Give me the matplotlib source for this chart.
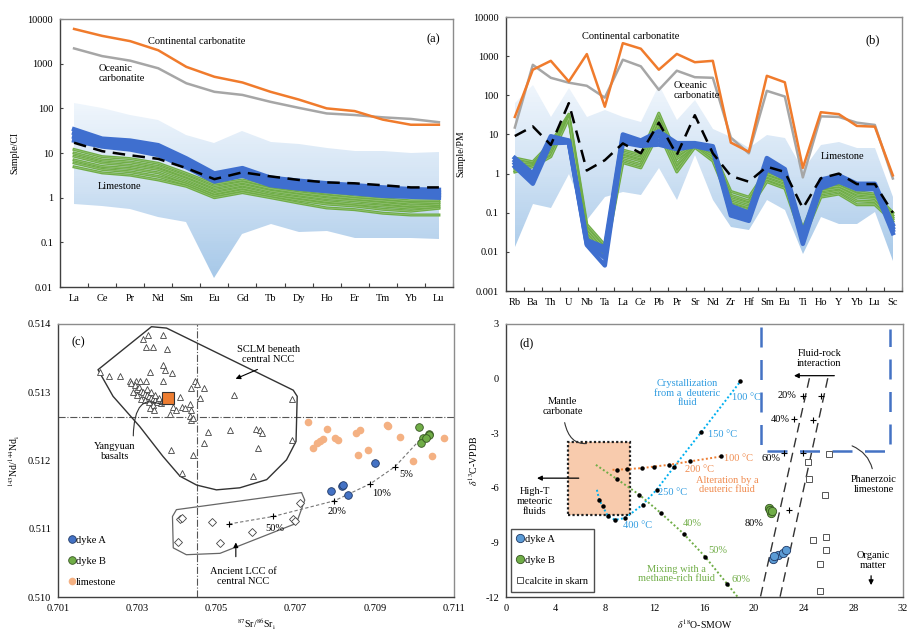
import numpy as np
import matplotlib
matplotlib.use('Agg')
import matplotlib.pyplot as plt
from matplotlib.patches import Polygon, Rectangle
from matplotlib.colors import LinearSegmentedColormap
from matplotlib.ticker import FixedLocator, FixedFormatter, NullLocator

plt.rcParams['font.family'] = ['Liberation Serif', 'DejaVu Serif']
plt.rcParams['mathtext.fontset'] = 'stix'
plt.rcParams['font.size'] = 7.5
plt.rcParams['axes.unicode_minus'] = False

# ---------------- (a) REE, chondrite normalised ----------------
ree = ['La', 'Ce', 'Pr', 'Nd', 'Sm', 'Eu', 'Gd', 'Tb', 'Dy', 'Ho', 'Er', 'Tm', 'Yb', 'Lu']
a_cont = [6000, 4200, 3200, 2000, 850, 510, 380, 235, 158, 100, 87, 56, 43, 43]
a_ocean = [2200, 1480, 1170, 790, 365, 235, 200, 140, 103, 77, 71, 63, 58, 49]
a_lime_hi = [135, 100, 71, 55, 25, 17, 31, 18, 16, 13, 11, 11, 10, 10.5]
a_lime_lo = [0.72, 0.65, 0.55, 0.37, 0.28, 0.016, 0.15, 0.26, 0.17, 0.18, 0.125, 0.125, 0.125, 0.12]
a_mean = [17, 11, 8.9, 7.4, 4.6, 2.6, 3.7, 3.0, 2.5, 2.2, 2.1, 1.9, 1.7, 1.7]
a_dykeA = [
    [34, 21, 19, 15, 7.6, 3.5, 4.6, 2.8, 2.4, 2.1, 1.9, 1.7, 1.55, 1.5],
    [28, 18, 16, 12.5, 6.5, 3.1, 4.1, 2.5, 2.1, 1.85, 1.65, 1.5, 1.35, 1.3],
    [23, 16, 14, 11, 5.6, 2.7, 3.6, 2.2, 1.85, 1.6, 1.45, 1.3, 1.2, 1.15],
    [19, 14, 12, 9, 4.8, 2.3, 3.1, 1.9, 1.6, 1.4, 1.25, 1.1, 1.05, 1.0],
]
a_dykeB = [
    [12, 8.3, 7.5, 5.9, 3.5, 2.0, 2.5, 1.8, 1.5, 1.25, 1.05, 0.95, 0.85, 0.85],
    [10, 7.0, 6.3, 5.0, 3.0, 1.7, 2.2, 1.6, 1.3, 1.1, 0.95, 0.85, 0.75, 0.78],
    [8.5, 6.0, 5.3, 4.3, 2.6, 1.45, 1.9, 1.4, 1.15, 0.95, 0.85, 0.75, 0.65, 0.7],
    [7.0, 5.0, 4.5, 3.6, 2.2, 1.25, 1.65, 1.2, 1.0, 0.82, 0.72, 0.65, 0.58, 0.62],
    [6.0, 4.3, 3.8, 3.0, 2.0, 1.1, 1.45, 1.1, 0.88, 0.72, 0.65, 0.55, 0.5, 0.58],
    [4.9, 3.6, 3.2, 2.5, 1.8, 1.0, 1.3, 1.0, 0.76, 0.59, 0.54, 0.45, 0.41, 0.41],
]

# ---------------- (b) trace elements, PM normalised ----------------
te = ['Rb', 'Ba', 'Th', 'U', 'Nb', 'Ta', 'La', 'Ce', 'Pb', 'Pr', 'Sr', 'Nd',
      'Zr', 'Hf', 'Sm', 'Eu', 'Ti', 'Ho', 'Y', 'Yb', 'Lu', 'Sc']
b_cont = [28, 450, 760, 225, 1130, 51, 2150, 1550, 450, 1140, 700, 760,
          6.2, 3.6, 315, 215, 1.4, 37, 33, 16.5, 15.8, 0.9]
b_ocean = [15, 600, 280, 210, 175, 87, 810, 550, 138, 425, 290, 280,
           8.3, 3.3, 130, 93, 0.8, 29, 28, 20, 17.5, 0.75]
b_lime_hi = [63, 185, 28, 150, 28, 42, 28, 21, 185, 23, 76, 14,
             8.7, 4.4, 9.6, 7.9, 1.2, 5.4, 6.5, 4.4, 4.4, 0.25]
b_lime_lo = [0.013, 0.17, 0.13, 1.0, 0.065, 0.25, 0.34, 0.28, 1.35, 0.21, 3.0, 0.21,
             0.044, 0.036, 0.21, 0.115, 0.009, 0.077, 0.053, 0.053, 0.105, 0.006]
b_mean = [9.1, 16, 5.4, 63, 1.2, 2.2, 5.9, 3.3, 20, 3.0, 31, 3.3,
          0.87, 0.62, 1.5, 1.1, 0.13, 0.76, 1.0, 0.54, 0.54, 0.1]
b_dykeA = [
    [2.5, 1.0, 9, 7, 0.02, 0.013, 10, 7, 12, 6, 6, 5, 0.15, 0.1, 2.5, 1.3, 0.03, 0.7, 0.9, 0.55, 0.55, 0.05],
    [2.1, 0.8, 8, 6.8, 0.018, 0.010, 8.5, 6.3, 9, 5.3, 5.6, 4.6, 0.12, 0.085, 2.0, 1.1, 0.025, 0.6, 0.8, 0.5, 0.5, 0.042],
    [1.8, 0.65, 7, 6.5, 0.016, 0.007, 7.3, 5.7, 7, 4.7, 5.3, 4.3, 0.1, 0.072, 1.6, 0.9, 0.02, 0.5, 0.7, 0.45, 0.45, 0.036],
    [1.5, 0.55, 6, 6.2, 0.015, 0.0045, 6.2, 5.1, 5.5, 4.2, 5.0, 4.0, 0.085, 0.062, 1.3, 0.75, 0.016, 0.42, 0.62, 0.4, 0.4, 0.03],
]
b_dykeB = [
    [2.5, 2.0, 6, 33, 0.05, 0.015, 4.0, 3.0, 35, 3.0, 5.2, 4.0, 0.35, 0.25, 1.2, 0.8, 0.04, 0.5, 0.55, 0.35, 0.3, 0.1],
    [2.0, 1.8, 5, 30, 0.04, 0.012, 3.3, 2.5, 25, 2.4, 5.0, 3.4, 0.28, 0.2, 1.0, 0.7, 0.033, 0.42, 0.48, 0.3, 0.27, 0.085],
    [1.6, 1.7, 4, 28, 0.033, 0.01, 2.8, 2.1, 18, 1.8, 4.9, 2.9, 0.23, 0.17, 0.85, 0.6, 0.028, 0.36, 0.42, 0.25, 0.23, 0.075],
    [1.3, 1.6, 3.3, 27, 0.028, 0.008, 2.3, 1.7, 14, 1.4, 4.8, 2.5, 0.19, 0.14, 0.72, 0.5, 0.023, 0.3, 0.36, 0.2, 0.19, 0.068],
    [1.1, 1.5, 2.7, 26, 0.024, 0.007, 1.9, 1.4, 11, 1.1, 4.7, 2.1, 0.16, 0.12, 0.62, 0.42, 0.02, 0.25, 0.3, 0.16, 0.16, 0.06],
]

# ---------------- (c) Sr-Nd isotopes ----------------
sclm_sr = [0.70326, 0.70365, 0.70315, 0.70323, 0.70340, 0.70374, 0.70205, 0.70229, 0.70256,
           0.70332, 0.70364, 0.70370, 0.70389, 0.70364, 0.70281, 0.70298, 0.70306, 0.70323,
           0.70285, 0.70295, 0.70300, 0.70305, 0.70310, 0.70315, 0.70320, 0.70325, 0.70330,
           0.70335, 0.70340, 0.70345, 0.70350, 0.70355, 0.70300, 0.70310, 0.70320, 0.70330,
           0.70340, 0.70290, 0.70325, 0.70335, 0.70345, 0.70360, 0.70365,
           0.70437, 0.70445, 0.70450, 0.70468, 0.70458, 0.70408, 0.70414, 0.70420, 0.70433,
           0.70437, 0.70391, 0.70399, 0.70382, 0.70332, 0.70342, 0.70433, 0.70437, 0.70441,
           0.70545, 0.70692, 0.70479, 0.70534, 0.70601, 0.70610, 0.70614, 0.70469, 0.70690,
           0.70385, 0.70441, 0.70604, 0.70414, 0.70593, 0.70365]
sclm_nd = [0.51384, 0.51384, 0.51378, 0.51367, 0.51366, 0.51364, 0.51330, 0.51324, 0.51324,
           0.51330, 0.51340, 0.51333, 0.51328, 0.51316, 0.51316, 0.51317, 0.51316, 0.51317,
           0.51313, 0.51310, 0.51305, 0.51308, 0.51302, 0.51300, 0.51298, 0.51296, 0.51294,
           0.51292, 0.51290, 0.51288, 0.51286, 0.51292, 0.51296, 0.51290, 0.51288, 0.51285,
           0.51282, 0.51300, 0.51305, 0.51300, 0.51296, 0.51284, 0.51290,
           0.51306, 0.51316, 0.51312, 0.51306, 0.51291, 0.51293, 0.51279, 0.51277, 0.51283,
           0.51274, 0.51278, 0.51274, 0.51268, 0.51277, 0.51274, 0.51265, 0.51260, 0.51262,
           0.51296, 0.51290, 0.51242, 0.51245, 0.51246, 0.51244, 0.51240, 0.51226, 0.51230,
           0.51215, 0.51208, 0.51219, 0.51182, 0.51177, 0.51289]
sclm_poly_sr = [0.70201, 0.70336, 0.70374, 0.70694, 0.70704, 0.70701, 0.70677, 0.70627,
                0.70559, 0.70500, 0.70450, 0.70408, 0.70365, 0.70306, 0.70239]
sclm_poly_nd = [0.51333, 0.51396, 0.51394, 0.51303, 0.51294, 0.51228, 0.51201, 0.51172,
                0.51160, 0.51157, 0.51164, 0.51177, 0.51206, 0.51250, 0.51294]
lcc_sr = [0.70408, 0.70412, 0.70403, 0.70488, 0.70509, 0.70589, 0.70694, 0.70698, 0.70711]
lcc_nd = [0.51114, 0.51116, 0.51081, 0.51110, 0.51079, 0.51095, 0.51114, 0.51111, 0.51138]
lcc_poly_sr = [0.70399, 0.70715, 0.70723, 0.70702, 0.70509, 0.70424, 0.70391, 0.70389]
lcc_poly_nd = [0.51128, 0.51153, 0.51142, 0.51108, 0.51064, 0.51062, 0.51072, 0.51118]
yangyuan_sr, yangyuan_nd = 0.70378, 0.51291
mix_sr = [0.70532, 0.70643, 0.70798, 0.70889, 0.70951, 0.71018]
mix_nd = [0.51107, 0.51118, 0.51141, 0.51166, 0.51191, 0.51233]
mix_labels = ['50%', '20%', '10%', '5%']
mix_label_sr = [0.70647, 0.70804, 0.70917, 0.70980]
mix_label_nd = [0.51100, 0.51125, 0.51151, 0.51180]
c_dykeA_sr = [0.70789, 0.70816, 0.70820, 0.70833, 0.70900]
c_dykeA_nd = [0.51155, 0.51163, 0.51164, 0.51149, 0.51196]
c_dykeB_sr = [0.71012, 0.71021, 0.71017, 0.71036, 0.71038, 0.71028]
c_dykeB_nd = [0.51249, 0.51233, 0.51225, 0.51239, 0.51237, 0.51233]
c_lime_sr = [0.70732, 0.70778, 0.70770, 0.70761, 0.70753, 0.70745, 0.70799, 0.70808, 0.70853,
             0.70862, 0.70858, 0.70883, 0.70930, 0.70934, 0.70964, 0.70996, 0.71044, 0.71075]
c_lime_nd = [0.51256, 0.51246, 0.51232, 0.51228, 0.51225, 0.51219, 0.51233, 0.51230, 0.51240,
             0.51244, 0.51208, 0.51216, 0.51252, 0.51251, 0.51235, 0.51200, 0.51206, 0.51233]

# ---------------- (d) C-O isotopes ----------------
cryst_o = [7.34, 7.53, 7.80, 8.25, 8.79, 9.63, 11.02, 12.15, 13.58, 15.73, 18.9]
cryst_c = [-6.11, -6.66, -7.02, -7.57, -7.76, -7.66, -6.93, -6.11, -4.83, -2.96, -0.16]
alter_o = [8.6, 8.95, 9.76, 10.97, 11.97, 13.12, 14.84, 17.34]
alter_c = [-5.01, -5.01, -4.97, -4.92, -4.83, -4.74, -4.55, -4.28]
methane_o = [7.26, 8.95, 10.76, 12.5, 14.33, 16.08, 17.83, 18.69]
methane_c = [-4.74, -5.52, -6.38, -7.39, -8.52, -9.80, -11.27, -12.0]
fr1_o, fr1_c = [24.47, 20.52], [0.02, -12]
fr2_o, fr2_c = [25.95, 22.1], [0.02, -12]
fr_cross_o = [23.93, 23.2, 22.4, 25.41, 24.74, 23.93, 22.86]
fr_cross_c = [-0.95, -2.23, -4.1, -0.95, -2.27, -4.1, -7.2]
phan_o = [20.57, 20.57, 31.0, 31.0]
phan_c = [2.85, -4.0, -4.0, 2.7]
d_dykeA_o = [21.51, 21.91, 22.32, 22.59, 21.65]
d_dykeA_c = [-9.91, -9.68, -9.58, -9.44, -9.77]
d_dykeB_o = [21.24, 21.38, 21.32, 21.42]
d_dykeB_c = [-7.12, -7.39, -7.24, -7.30]
skarn_o = [26.03, 24.33, 24.47, 25.73, 24.74, 25.81, 25.81, 25.33, 25.33]
skarn_c = [-4.13, -4.59, -5.5, -6.38, -8.89, -8.71, -9.4, -10.19, -11.69]

ORANGE = '#F07B2C'
GREY = '#A6A6A6'
BLUE = '#3F6FCF'
GREEN = '#70AD47'
band_cmap = LinearSegmentedColormap.from_list('band', ['#a6c8e8', '#cfe1f3', '#f0f6fc'])


def style_frame(ax):
    for s in ['top', 'right']:
        ax.spines[s].set_color('#8c8c8c')
    for s in ['left', 'bottom']:
        ax.spines[s].set_color('#404040')
    for s in ax.spines.values():
        s.set_linewidth(1.0)


def draw_band(ax, lo, hi, vmin, vmax):
    xs = np.arange(len(lo))
    verts = list(zip(xs, hi)) + list(zip(xs[::-1], lo[::-1]))
    poly = Polygon(verts, closed=True, facecolor='none', edgecolor='none')
    ax.add_patch(poly)
    gy = np.logspace(np.log10(vmin), np.log10(vmax), 80)
    gx = np.array([xs[0], xs[-1]])
    cval = np.log10(gy[:-1])[:, None]
    mesh = ax.pcolormesh(gx, gy, cval, cmap=band_cmap, shading='flat',
                         vmin=np.log10(vmin), vmax=np.log10(vmax), zorder=1)
    mesh.set_clip_path(poly)


def spider_axes(ax, names, decades):
    n = len(names)
    ax.set_yscale('log')
    ax.set_xlim(-0.5, n - 0.5)
    ax.yaxis.set_major_locator(FixedLocator(decades))
    ax.yaxis.set_major_formatter(FixedFormatter(['%g' % d for d in decades]))
    ax.yaxis.set_minor_locator(NullLocator())
    ax.tick_params(axis='y', direction='in', length=2.5, pad=5, color='#404040')
    ax.set_xticks(np.arange(n) + 0.5)
    ax.set_xticklabels([])
    ax.set_xticks(np.arange(n), minor=True)
    ax.set_xticklabels(names, minor=True)
    ax.tick_params(axis='x', which='major', direction='in', length=3, color='#404040')
    ax.tick_params(axis='x', which='minor', length=0, pad=5)
    style_frame(ax)


def stacked(ax, x, rows, color, lw, seam):
    for row in rows:
        ax.plot(x, row, color=color, lw=lw, zorder=3)
        if seam:
            ax.plot(x, row, color='white', lw=0.35, alpha=0.35, zorder=3)


fig = plt.figure(figsize=(9.18, 6.35), dpi=100)
ax_a = fig.add_axes([0.0654, 0.548, 0.428, 0.422])
ax_b = fig.add_axes([0.551, 0.5417, 0.4314, 0.4315])
ax_c = fig.add_axes([0.0632, 0.0598, 0.4314, 0.43])
ax_d = fig.add_axes([0.551, 0.0598, 0.4325, 0.43])

# ---- (a)
x_a = np.arange(len(ree))
draw_band(ax_a, a_lime_lo, a_lime_hi, 0.015, 140)
stacked(ax_a, x_a, a_dykeB, GREEN, 2.2, True)
stacked(ax_a, x_a, a_dykeA, BLUE, 3.2, False)
ax_a.plot(x_a, a_mean, color='black', lw=1.8, ls=(0, (5, 3)), zorder=5)
ax_a.plot(x_a, a_ocean, color=GREY, lw=1.8, zorder=5)
ax_a.plot(x_a, a_cont, color=ORANGE, lw=1.8, zorder=6)
spider_axes(ax_a, ree, [0.01, 0.1, 1, 10, 100, 1000, 10000])
ax_a.set_ylim(0.01, 10000)
ax_a.set_ylabel('Sample/CI', fontsize=7, labelpad=6)
ax_a.text(2.64, 3200, 'Continental carbonatite', va='center', ha='left')
ax_a.text(0.86, 600, 'Oceanic\ncarbonatite', va='center', ha='left', linespacing=1.1)
ax_a.text(0.86, 1.8, 'Limestone', va='center', ha='left', zorder=7)
ax_a.text(12.8, 3500, '(a)', va='center', ha='center', fontsize=9)

# ---- (b)
x_b = np.arange(len(te))
draw_band(ax_b, b_lime_lo, b_lime_hi, 0.005, 200)
stacked(ax_b, x_b, b_dykeB, GREEN, 2.2, True)
stacked(ax_b, x_b, b_dykeA, BLUE, 3.2, False)
ax_b.plot(x_b, b_mean, color='black', lw=1.8, ls=(0, (5, 3)), zorder=5)
ax_b.plot(x_b, b_ocean, color=GREY, lw=1.8, zorder=5)
ax_b.plot(x_b, b_cont, color=ORANGE, lw=1.8, zorder=6)
spider_axes(ax_b, te, [0.001, 0.01, 0.1, 1, 10, 100, 1000, 10000])
ax_b.set_ylim(0.001, 10000)
ax_b.set_ylabel('Sample/PM', fontsize=7, labelpad=6)
ax_b.text(3.74, 3200, 'Continental carbonatite', va='center', ha='left')
ax_b.text(8.8, 130, 'Oceanic\ncarbonatite', va='center', ha='left', linespacing=1.1, zorder=7)
ax_b.text(17.0, 2.7, 'Limestone', va='center', ha='left', zorder=7)
ax_b.text(19.9, 2600, '(b)', va='center', ha='center', fontsize=9)

# ---- (c)
ax_c.set_xlim(0.701, 0.711)
ax_c.set_ylim(0.510, 0.514)
ax_c.axvline(0.7045, color='#555555', lw=0.8, ls='-.', zorder=1)
ax_c.axhline(0.51263, color='#555555', lw=0.8, ls='-.', zorder=1)
ax_c.add_patch(Polygon(list(zip(sclm_poly_sr, sclm_poly_nd)), closed=True, fill=False,
                       edgecolor='#333333', lw=1.0, joinstyle='round'))
ax_c.add_patch(Polygon(list(zip(lcc_poly_sr, lcc_poly_nd)), closed=True, fill=False,
                       edgecolor='#666666', lw=0.9, joinstyle='round'))
ax_c.plot(sclm_sr, sclm_nd, ls='none', marker='^', ms=4.3, mfc='white', mec='#444444', mew=0.6, zorder=3)
ax_c.plot(lcc_sr, lcc_nd, ls='none', marker='D', ms=3.6, mfc='white', mec='#444444', mew=0.6, zorder=3)
ax_c.plot(mix_sr, mix_nd, color='#777777', lw=0.8, ls=(0, (3, 2)), zorder=2)
ax_c.plot(mix_sr[:-1], mix_nd[:-1], ls='none', marker='+', ms=4, color='black', mew=0.8, zorder=3)
for lab, xx, yy in zip(mix_labels, mix_label_sr, mix_label_nd):
    ax_c.text(xx, yy, lab, ha='center', va='center')
ax_c.plot([yangyuan_sr], [yangyuan_nd], ls='none', marker='s', ms=9, mfc='#ED7D31', mec='#333333', mew=0.8, zorder=5)
ax_c.plot(c_lime_sr, c_lime_nd, ls='none', marker='o', ms=5.5, mfc='#F4B183', mec='none', zorder=3, label='limestone')
ax_c.plot(c_dykeA_sr, c_dykeA_nd, ls='none', marker='o', ms=5.5, mfc='#4472C4', mec='#1F3864', mew=0.6, zorder=4, label='dyke A')
ax_c.plot(c_dykeB_sr, c_dykeB_nd, ls='none', marker='o', ms=5.5, mfc=GREEN, mec='#375623', mew=0.6, zorder=4, label='dyke B')
h, l = ax_c.get_legend_handles_labels()
ax_c.legend([h[1], h[2], h[0]], [l[1], l[2], l[0]], loc='lower left', frameon=False,
            handlelength=0.6, handletextpad=0.1, labelspacing=1.1, borderaxespad=0.6, fontsize=7.5)
ax_c.text(0.7015, 0.51373, '(c)', ha='center', va='center', fontsize=9)
ax_c.text(0.70631, 0.51355, 'SCLM beneath\ncentral NCC', ha='center', va='center', linespacing=1.1)
ax_c.annotate('', xy=(0.70542, 0.51318), xytext=(0.70610, 0.51335),
              arrowprops=dict(arrowstyle='-|>', color='black', lw=0.8, mutation_scale=7))
ax_c.text(0.70243, 0.51213, 'Yangyuan\nbasalts', ha='center', va='center', linespacing=1.1)
ax_c.annotate('', xy=(0.70370, 0.51279), xytext=(0.70290, 0.51232),
              arrowprops=dict(arrowstyle='-', color='#333333', lw=0.8,
                              connectionstyle='angle3,angleA=90,angleB=-30'))
ax_c.text(0.70568, 0.51030, 'Ancient LCC of\ncentral NCC', ha='center', va='center', linespacing=1.1)
ax_c.annotate('', xy=(0.70549, 0.51084), xytext=(0.70549, 0.51055),
              arrowprops=dict(arrowstyle='-|>', color='black', lw=0.8, mutation_scale=7))
ax_c.set_xticks([0.701, 0.703, 0.705, 0.707, 0.709, 0.711])
ax_c.set_xticklabels(['0.701', '0.703', '0.705', '0.707', '0.709', '0.711'])
ax_c.set_yticks([0.510, 0.511, 0.512, 0.513, 0.514])
ax_c.set_yticklabels(['0.510', '0.511', '0.512', '0.513', '0.514'])
ax_c.tick_params(length=0, pad=5)
ax_c.set_xlabel(r'$^{87}$Sr/$^{86}$Sr$_{\rm i}$', fontsize=7, labelpad=3)
ax_c.set_ylabel(r'$^{143}$Nd/$^{144}$Nd$_{\rm i}$', fontsize=7, labelpad=4)
style_frame(ax_c)

# ---- (d)
ax_d.set_xlim(0, 32)
ax_d.set_ylim(-12, 3)
ax_d.add_patch(Rectangle((5, -7.5), 5, 4, facecolor='#F8CBAD', edgecolor='#222222',
                         ls=(0, (1, 1)), lw=1.6, zorder=1))
ax_d.plot(phan_o, phan_c, color='#4472C4', lw=1.8, ls=(0, (8, 5)), zorder=2)
ax_d.plot(cryst_o, cryst_c, color='#00B0F0', lw=1.4, ls=(0, (1, 1.2)), zorder=3)
ax_d.plot(cryst_o[1:], cryst_c[1:], ls='none', marker='o', ms=2.2, color='black', zorder=4)
ax_d.plot(alter_o, alter_c, color='#ED7D31', lw=1.4, ls=(0, (1, 1.2)), zorder=3)
ax_d.plot(alter_o[1:], alter_c[1:], ls='none', marker='o', ms=2.2, color='black', zorder=4)
ax_d.plot(methane_o, methane_c, color=GREEN, lw=1.4, ls=(0, (1, 1.2)), zorder=3)
ax_d.plot(methane_o[1:-1], methane_c[1:-1], ls='none', marker='o', ms=2.2, color='black', zorder=4)
ax_d.plot(fr1_o, fr1_c, color='#333333', lw=1.0, ls=(0, (7, 4)), zorder=3)
ax_d.plot(fr2_o, fr2_c, color='#333333', lw=1.0, ls=(0, (7, 4)), zorder=3)
ax_d.plot(fr_cross_o, fr_cross_c, ls='none', marker='+', ms=4, color='black', mew=0.8, zorder=4)
ax_d.plot(skarn_o, skarn_c, ls='none', marker='s', ms=4, mfc='white', mec='#555555', mew=0.7,
          zorder=4, label='calcite in skarn')
ax_d.plot(d_dykeA_o, d_dykeA_c, ls='none', marker='o', ms=6, mfc='#5B9BD5', mec='#1F3864', mew=0.6,
          zorder=5, label='dyke A')
ax_d.plot(d_dykeB_o, d_dykeB_c, ls='none', marker='o', ms=6, mfc=GREEN, mec='#375623', mew=0.6,
          zorder=5, label='dyke B')
h, l = ax_d.get_legend_handles_labels()
leg = ax_d.legend([h[1], h[2], h[0]], [l[1], l[2], l[0]], loc='lower left', frameon=True, fancybox=False,
                  edgecolor='#222222', handlelength=0.6, handletextpad=0.1, labelspacing=1.1,
                  borderaxespad=0.5, borderpad=0.6, fontsize=7.5)
leg.get_frame().set_linewidth(1.0)

ax_d.text(1.69, 1.94, '(d)', ha='center', va='center', fontsize=9)
ax_d.text(14.65, -0.8, 'Crystallization\nfrom a  deuteric\nfluid', color='#2E9BE0', ha='center', va='center', linespacing=1.05)
ax_d.text(19.36, -1.02, '100 °C', color='#2E9BE0', ha='center', va='center')
ax_d.text(17.48, -3.05, '150 °C', color='#2E9BE0', ha='center', va='center')
ax_d.text(13.44, -6.24, '250 °C', color='#2E9BE0', ha='center', va='center')
ax_d.text(10.62, -8.08, '400 °C', color='#2E9BE0', ha='center', va='center')
ax_d.text(18.77, -4.41, '100 °C', color='#F08C50', ha='center', va='center')
ax_d.text(15.6, -5.01, '200 °C', color='#F08C50', ha='center', va='center')
ax_d.text(17.83, -5.83, 'Alteration by a\ndeuteric fluid', color='#F08C50', ha='center', va='center', linespacing=1.05)
ax_d.text(15.0, -7.98, '40%', color=GREEN, ha='center', va='center')
ax_d.text(17.07, -9.44, '50%', color=GREEN, ha='center', va='center')
ax_d.text(18.96, -11.01, '60%', color=GREEN, ha='center', va='center')
ax_d.text(13.77, -10.72, 'Mixing with a\nmethane-rich fluid', color=GREEN, ha='center', va='center', linespacing=1.05)
ax_d.text(4.57, -1.54, 'Mantle\ncarbonate', ha='center', va='center', linespacing=1.1)
ax_d.annotate('', xy=(6.72, -3.55), xytext=(4.7, -2.27),
              arrowprops=dict(arrowstyle='-', color='#333333', lw=0.8,
                              connectionstyle='angle3,angleA=-80,angleB=10'))
ax_d.text(2.34, -6.75, 'High-T\nmeteoric\nfluids', ha='center', va='center', linespacing=1.1)
ax_d.annotate('', xy=(2.29, -5.47), xytext=(6.1, -5.47),
              arrowprops=dict(arrowstyle='-|>', color='black', lw=0.9, mutation_scale=7))
ax_d.text(25.28, 1.12, 'Fluid-rock\ninteraction', ha='center', va='center', linespacing=1.1)
ax_d.annotate('', xy=(23.0, 0.16), xytext=(26.7, 0.16),
              arrowprops=dict(arrowstyle='-|>', color='black', lw=0.9, mutation_scale=7))
ax_d.text(22.64, -0.93, '20%', ha='center', va='center')
ax_d.text(22.13, -2.23, '40%', ha='center', va='center')
ax_d.text(21.38, -4.37, '60%', ha='center', va='center')
ax_d.text(20.03, -7.98, '80%', ha='center', va='center')
ax_d.text(29.66, -5.83, 'Phanerzoic\nlimestone', ha='center', va='center', linespacing=1.1)
ax_d.annotate('', xy=(27.7, -3.64), xytext=(29.58, -5.1),
              arrowprops=dict(arrowstyle='-', color='#333333', lw=0.8,
                              connectionstyle='angle3,angleA=100,angleB=-20'))
ax_d.text(29.58, -9.99, 'Organic\nmatter', ha='center', va='center', linespacing=1.1)
ax_d.annotate('', xy=(29.44, -11.5), xytext=(29.44, -10.68),
              arrowprops=dict(arrowstyle='-|>', color='black', lw=0.9, mutation_scale=7))
ax_d.set_xticks(np.arange(0, 33, 4))
ax_d.set_yticks([-12, -9, -6, -3, 0, 3])
ax_d.tick_params(length=0, pad=5)
ax_d.set_xlabel(r'$\delta^{18}$O-SMOW', fontsize=7, labelpad=3)
ax_d.set_ylabel(r'$\delta^{13}$C-VPDB', fontsize=7, labelpad=4)
style_frame(ax_d)

fig.savefig('out.png', dpi=100)
